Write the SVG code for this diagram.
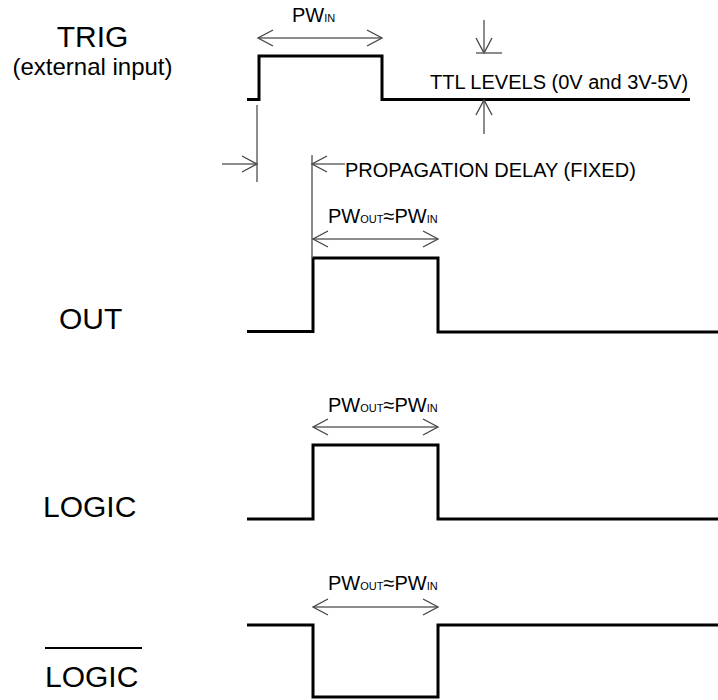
<svg xmlns="http://www.w3.org/2000/svg" width="718" height="700" viewBox="0 0 718 700">
<style>
.wave{fill:none;stroke:#000;stroke-width:3;stroke-linejoin:miter}
.dim{fill:none;stroke:#666;stroke-width:1.5}
.arr{marker-end:url(#ah)}
.dbl{marker-start:url(#ah);marker-end:url(#ah)}
.big{font-family:"Liberation Sans",Arial,sans-serif;font-size:30px;fill:#000}
.mid{font-family:"Liberation Sans",Arial,sans-serif;font-size:24px;fill:#000}
.lbl{font-family:"Liberation Sans",Arial,sans-serif;font-size:20px;fill:#000}
.sub{font-size:11px}
</style>
<defs>
<marker id="ah" viewBox="-17 -10 19 20" refX="0" refY="0" markerWidth="19" markerHeight="20" markerUnits="userSpaceOnUse" orient="auto-start-reverse">
<path d="M-15,-8 L0,0 L-15,8" fill="none" stroke="#444" stroke-width="1.3"/>
</marker>
</defs>
<rect width="718" height="700" fill="#fff"/>

<g id="trig">
<text class="big" x="92.5" y="46.5" text-anchor="middle">TRIG</text>
<text class="mid" x="92.5" y="75" text-anchor="middle">(external input)</text>
<path class="wave" d="M247,99.5 H259 V56 H382 V99.5 H690"/>
<text class="lbl" x="292" y="22">PW<tspan class="sub">IN</tspan></text>
<text class="lbl" x="430" y="89">TTL LEVELS (0V and 3V-5V)</text>
<text class="lbl" x="345" y="177">PROPAGATION DELAY (FIXED)</text>
</g>

<g id="out">
<text class="big" x="59" y="329">OUT</text>
<path class="wave" d="M247,331.5 H313 V258 H438 V332 H718"/>
<text class="lbl" x="328" y="223">PW<tspan class="sub">OUT</tspan>≈PW<tspan class="sub">IN</tspan></text>
</g>

<g id="logic">
<text class="big" x="43" y="517">LOGIC</text>
<path class="wave" d="M247,519 H313 V445 H438 V519 H718"/>
<text class="lbl" x="328" y="412">PW<tspan class="sub">OUT</tspan>≈PW<tspan class="sub">IN</tspan></text>
</g>

<g id="logic-bar">
<line x1="45" y1="648" x2="142" y2="648" stroke="#000" stroke-width="2"/>
<text class="big" x="45" y="687">LOGIC</text>
<path class="wave" d="M247,625 H313 V697 H438 V625 H718"/>
<text class="lbl" x="328" y="590">PW<tspan class="sub">OUT</tspan>≈PW<tspan class="sub">IN</tspan></text>
</g>

<g id="connectors">
<line class="dim dbl" x1="258" y1="38" x2="382" y2="38"/>
<line class="dim arr" x1="484" y1="20" x2="484" y2="53"/>
<line class="dim" x1="476" y1="53" x2="502" y2="53"/>
<line class="dim arr" x1="484" y1="134" x2="484" y2="100"/>
<line class="dim" x1="257" y1="105" x2="257" y2="182"/>
<line class="dim arr" x1="222" y1="164" x2="257" y2="164"/>
<line class="dim" x1="312" y1="155" x2="312" y2="258"/>
<line class="dim arr" x1="345" y1="164" x2="312" y2="164"/>
<line class="dim dbl" x1="313" y1="239" x2="438" y2="239"/>
<line class="dim dbl" x1="313" y1="427" x2="438" y2="427"/>
<line class="dim dbl" x1="313" y1="607" x2="438" y2="607"/>
</g>
</svg>
